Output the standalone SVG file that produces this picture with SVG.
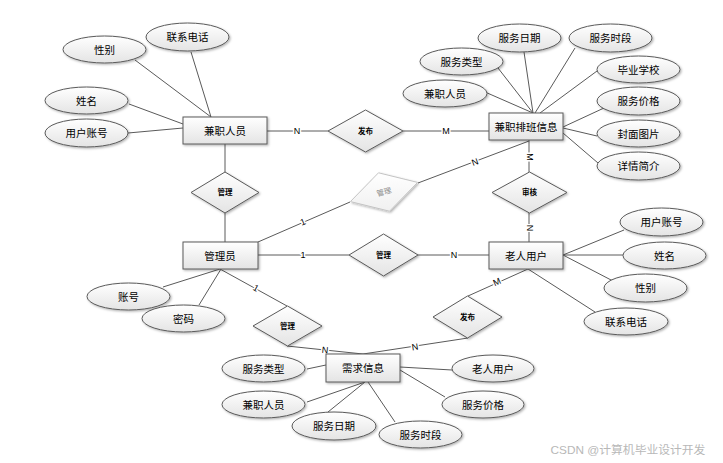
<svg xmlns="http://www.w3.org/2000/svg" width="723" height="463" viewBox="0 0 723 463">
<defs>
<linearGradient id="g" x1="0" y1="0" x2="0" y2="1"><stop offset="0" stop-color="#ffffff"/><stop offset="1" stop-color="#e4e4e4"/></linearGradient>
<linearGradient id="gl" x1="0" y1="0" x2="0" y2="1"><stop offset="0" stop-color="#ffffff"/><stop offset="1" stop-color="#f0f0f0"/></linearGradient>
<filter id="sh" x="-20%" y="-20%" width="150%" height="150%"><feDropShadow dx="1.2" dy="1.2" stdDeviation="0.8" flood-color="#000" flood-opacity="0.3"/></filter>
</defs>
<style>
text{font-family:"Liberation Sans","Noto Sans CJK SC",sans-serif;text-anchor:middle;dominant-baseline:central;fill:#000}
.e rect,.e ellipse,.e polygon{fill:url(#g);stroke:#5a5a5a;stroke-width:1;filter:url(#sh)}
.t{font-size:10.5px}
.d{font-size:7.5px;font-weight:bold}
.c line{stroke:#5a5a5a;stroke-width:1}
.l{font-size:9px;stroke:#fff;stroke-width:3px;paint-order:stroke;stroke-linejoin:round}
.gray polygon{fill:url(#gl);stroke:#c4c4c4;stroke-width:1;filter:url(#sh)}
</style>
<rect width="723" height="463" fill="#fff"/>
<g id="connectors" class="c">
<line x1="135" y1="60" x2="211" y2="117"/>
<line x1="191" y1="52" x2="211" y2="117"/>
<line x1="129" y1="104" x2="183" y2="124"/>
<line x1="128" y1="133" x2="183" y2="128"/>
<line x1="498" y1="68" x2="533" y2="113"/>
<line x1="485" y1="92" x2="533" y2="113"/>
<line x1="524" y1="52" x2="533" y2="113"/>
<line x1="575" y1="48" x2="535" y2="113"/>
<line x1="597" y1="71" x2="540" y2="113"/>
<line x1="604" y1="108" x2="563" y2="127"/>
<line x1="597" y1="136" x2="563" y2="128"/>
<line x1="598" y1="163" x2="563" y2="133"/>
<line x1="267" y1="131" x2="328" y2="131"/>
<line x1="403" y1="131" x2="489" y2="131"/>
<line x1="225" y1="144" x2="225" y2="172"/>
<line x1="225" y1="213" x2="225" y2="242"/>
<line x1="529" y1="140" x2="529" y2="172"/>
<line x1="529" y1="213" x2="529" y2="242"/>
<line x1="529" y1="141" x2="418" y2="183"/>
<line x1="350" y1="202" x2="258" y2="242"/>
<line x1="258" y1="255" x2="349" y2="255"/>
<line x1="418" y1="255" x2="489" y2="255"/>
<line x1="163" y1="287" x2="220" y2="269"/>
<line x1="199" y1="305" x2="221" y2="269"/>
<line x1="220" y1="269" x2="287" y2="306"/>
<line x1="287" y1="346" x2="363" y2="354"/>
<line x1="528" y1="269" x2="468" y2="296"/>
<line x1="468" y1="338" x2="363" y2="354"/>
<line x1="563" y1="255" x2="624" y2="230"/>
<line x1="563" y1="255" x2="623" y2="255"/>
<line x1="563" y1="255" x2="613" y2="281"/>
<line x1="528" y1="269" x2="595" y2="312"/>
<line x1="307" y1="369" x2="326" y2="365"/>
<line x1="307" y1="402" x2="365" y2="382"/>
<line x1="328" y1="412" x2="365" y2="382"/>
<line x1="395" y1="422" x2="368" y2="382"/>
<line x1="400" y1="367" x2="452" y2="370"/>
<line x1="400" y1="370" x2="445" y2="397"/>
<text class="l" x="297" y="131">N</text>
<text class="l" x="446" y="131">M</text>
<text class="l" transform="translate(530 157) rotate(90)">M</text>
<text class="l" transform="translate(530 228) rotate(90)">N</text>
<text class="l" transform="translate(475 162) rotate(-20)">N</text>
<text class="l" transform="translate(303 222) rotate(-23)">1</text>
<text class="l" x="303" y="255">1</text>
<text class="l" x="454" y="255">N</text>
<text class="l" transform="translate(256 288) rotate(29)">1</text>
<text class="l" transform="translate(325 350) rotate(6)">N</text>
<text class="l" transform="translate(497 282) rotate(-24)">M</text>
<text class="l" transform="translate(415 347) rotate(-9)">N</text>
</g>
<g id="n_jianzhi" class="e"><rect x="183" y="117" width="84" height="27"/><text class="t" x="225" y="131">兼职人员</text></g>
<g id="n_paiban" class="e"><rect x="489" y="113" width="74" height="27"/><text class="t" x="526" y="127">兼职排班信息</text></g>
<g id="n_admin" class="e"><rect x="183" y="242" width="75" height="27"/><text class="t" x="220" y="256">管理员</text></g>
<g id="n_laoren" class="e"><rect x="489" y="242" width="74" height="27"/><text class="t" x="526" y="256">老人用户</text></g>
<g id="n_xuqiu" class="e"><rect x="326" y="354" width="74" height="28"/><text class="t" x="363" y="368">需求信息</text></g>
<g id="r_fabu1" class="e"><polygon points="328,131 365.5,110 403,131 365.5,152"/><text class="d" x="365.5" y="131">发布</text></g>
<g id="r_guanli1" class="e"><polygon points="191,192.5 225,172 259,192.5 225,213"/><text class="d" x="225" y="192.5">管理</text></g>
<g id="r_shenhe" class="e"><polygon points="492,192.5 529.5,172 567,192.5 529.5,213"/><text class="d" x="529.5" y="192.5">审核</text></g>
<g id="r_guanli2" class="e"><polygon points="349,255 383.5,234 418,255 383.5,276"/><text class="d" x="383.5" y="255">管理</text></g>
<g id="r_guanli3" class="e"><polygon points="253,326 287.5,306 322,326 287.5,346"/><text class="d" x="287.5" y="326">管理</text></g>
<g id="r_fabu2" class="e"><polygon points="433,317 467.5,296 502,317 467.5,338"/><text class="d" x="467.5" y="317">发布</text></g>
<g id="r_guanli4" class="gray"><polygon points="350.4,201.6 378.5,172.8 417.6,182.4 389.5,211.2"/><text class="d" style="fill:#8a8a8a;font-weight:normal" transform="translate(384 192) rotate(-16)">管理</text></g>
<g id="a_xingbie1" class="e"><ellipse cx="104.5" cy="49.5" rx="41.5" ry="13.5"/><text class="t" x="104.5" y="49.5">性别</text></g>
<g id="a_dianhua1" class="e"><ellipse cx="187.5" cy="37" rx="41.5" ry="14"/><text class="t" x="187.5" y="37">联系电话</text></g>
<g id="a_xingming1" class="e"><ellipse cx="86.5" cy="100.5" rx="41.5" ry="13.5"/><text class="t" x="86.5" y="100.5">姓名</text></g>
<g id="a_zhanghao1" class="e"><ellipse cx="86.5" cy="133" rx="41.5" ry="14"/><text class="t" x="86.5" y="133">用户账号</text></g>
<g id="a_riqi1" class="e"><ellipse cx="519.5" cy="38" rx="41.5" ry="14"/><text class="t" x="519.5" y="38">服务日期</text></g>
<g id="a_shiduan1" class="e"><ellipse cx="610.5" cy="38" rx="41.5" ry="14"/><text class="t" x="610.5" y="38">服务时段</text></g>
<g id="a_leixing1" class="e"><ellipse cx="461.5" cy="61.5" rx="41.5" ry="13.5"/><text class="t" x="461.5" y="61.5">服务类型</text></g>
<g id="a_xuexiao" class="e"><ellipse cx="638.5" cy="69.5" rx="41.5" ry="13.5"/><text class="t" x="638.5" y="69.5">毕业学校</text></g>
<g id="a_renyuan1" class="e"><ellipse cx="445" cy="93.5" rx="42" ry="13.5"/><text class="t" x="445" y="93.5">兼职人员</text></g>
<g id="a_jiage1" class="e"><ellipse cx="638.5" cy="101" rx="41.5" ry="14"/><text class="t" x="638.5" y="101">服务价格</text></g>
<g id="a_tupian" class="e"><ellipse cx="638.5" cy="133.5" rx="41.5" ry="13.5"/><text class="t" x="638.5" y="133.5">封面图片</text></g>
<g id="a_jianjie" class="e"><ellipse cx="638.5" cy="166" rx="41.5" ry="14"/><text class="t" x="638.5" y="166">详情简介</text></g>
<g id="a_zhanghao2" class="e"><ellipse cx="661.5" cy="222" rx="41.5" ry="14"/><text class="t" x="661.5" y="222">用户账号</text></g>
<g id="a_xingming2" class="e"><ellipse cx="664.5" cy="255.5" rx="41.5" ry="13.5"/><text class="t" x="664.5" y="255.5">姓名</text></g>
<g id="a_xingbie2" class="e"><ellipse cx="645.5" cy="288" rx="41.5" ry="14"/><text class="t" x="645.5" y="288">性别</text></g>
<g id="a_dianhua2" class="e"><ellipse cx="626" cy="321.5" rx="42" ry="13.5"/><text class="t" x="626" y="321.5">联系电话</text></g>
<g id="a_zhanghao3" class="e"><ellipse cx="128.5" cy="296.5" rx="41.5" ry="13.5"/><text class="t" x="128.5" y="296.5">账号</text></g>
<g id="a_mima" class="e"><ellipse cx="183.5" cy="318.5" rx="41.5" ry="13.5"/><text class="t" x="183.5" y="318.5">密码</text></g>
<g id="a_leixing2" class="e"><ellipse cx="263.5" cy="368.5" rx="41.5" ry="13.5"/><text class="t" x="263.5" y="368.5">服务类型</text></g>
<g id="a_renyuan2" class="e"><ellipse cx="263.5" cy="404.5" rx="41.5" ry="13.5"/><text class="t" x="263.5" y="404.5">兼职人员</text></g>
<g id="a_riqi2" class="e"><ellipse cx="334" cy="426" rx="42" ry="14"/><text class="t" x="334" y="426">服务日期</text></g>
<g id="a_shiduan2" class="e"><ellipse cx="420.5" cy="434.5" rx="41.5" ry="13.5"/><text class="t" x="420.5" y="434.5">服务时段</text></g>
<g id="a_laoren" class="e"><ellipse cx="493" cy="368.5" rx="41" ry="13.5"/><text class="t" x="493" y="368.5">老人用户</text></g>
<g id="a_jiage2" class="e"><ellipse cx="483" cy="404.5" rx="41" ry="13.5"/><text class="t" x="483" y="404.5">服务价格</text></g>
<text x="628" y="450" style="font-size:11.8px;fill:#b8b8b8">CSDN @计算机毕业设计开发</text>
</svg>
